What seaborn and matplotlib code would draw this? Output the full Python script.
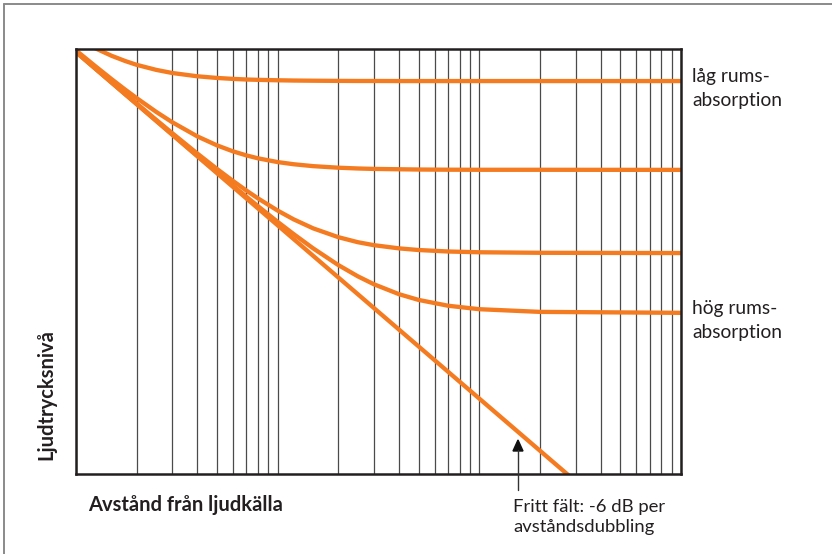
import matplotlib
matplotlib.use("Agg")
import matplotlib.pyplot as plt
from matplotlib.lines import Line2D
from matplotlib.ticker import LogLocator, NullFormatter
import pandas as pd
import seaborn as sns

# Distance from source (relative units, log axis)
distance = [1, 1.25, 1.5, 1.75, 2, 2.5, 3, 4, 5, 6, 7, 8, 10, 12, 15, 20,
            25, 30, 40, 50, 70, 100, 200, 1000]

# Sound pressure level (dB, relative) for four room absorptions
level_low = [1.65, 0.42, -0.43, -1.03, -1.48, -2.06, -2.42, -2.80, -2.99, -3.10,
             -3.17, -3.21, -3.26, -3.29, -3.31, -3.33, -3.34, -3.34, -3.35, -3.35,
             -3.35, -3.35, -3.35, -3.35]
level_mid1 = [0.19, -1.65, -3.12, -4.32, -5.32, -6.91, -8.10, -9.74, -10.77, -11.46,
              -11.93, -12.27, -12.70, -12.95, -13.17, -13.35, -13.44, -13.49, -13.53,
              -13.56, -13.58, -13.59, -13.59, -13.60]
level_mid2 = [0.02, -1.91, -3.48, -4.80, -5.94, -7.83, -9.36, -11.72, -13.49, -14.87,
              -15.99, -16.90, -18.30, -19.31, -20.35, -21.37, -21.95, -22.29, -22.66,
              -22.85, -23.02, -23.11, -23.17, -23.20]
level_high = [0.00, -1.93, -3.51, -4.85, -6.00, -7.93, -9.50, -11.97, -13.87, -15.41,
              -16.70, -17.80, -19.60, -21.01, -22.66, -24.59, -25.89, -26.80, -27.95,
              -28.61, -29.28, -29.68, -29.99, -30.10]

# Free field: -6 dB per doubling of distance
free_distance = [1, 10, 100, 1000]
free_level = [0, -20, -40, -60]

ylabel = "Ljudtrycksnivå"
xlabel = "Avstånd från ljudkälla"
label_low = "låg rums-\nabsorption"
label_high = "hög rums-\nabsorption"
free_label = "Fritt fält: -6 dB per\navståndsdubbling"

ORANGE = "#F47B20"
TEXT = "#231f20"
W, H = 832, 554

sns.set_theme(style="white")
plt.rcParams["font.family"] = ["Lato", "DejaVu Sans"]

fig = plt.figure(figsize=(W / 100, H / 100), dpi=100)
fig.patch.set_facecolor("white")

ax_l, ax_r, ax_t, ax_b = 76, 681, 49, 474
ax = fig.add_axes([ax_l / W, 1 - ax_b / H, (ax_r - ax_l) / W, (ax_b - ax_t) / H])

ax.set_xscale("log")
ax.set_xlim(1, 1000)
ax.set_ylim(-48.7, 0.35)

# grid
ax.xaxis.set_major_locator(LogLocator(base=10))
ax.xaxis.set_minor_locator(LogLocator(base=10, subs=range(2, 10)))
ax.xaxis.set_major_formatter(NullFormatter())
ax.xaxis.set_minor_formatter(NullFormatter())
ax.set_yticks([])
ax.tick_params(which="both", length=0)
ax.grid(True, which="both", axis="x", color="#4a4a4a", lw=0.9)
ax.grid(False, axis="y")

curves = [level_low, level_mid1, level_mid2, level_high]
for lev in curves:
    df = pd.DataFrame({"distance": distance, "level": lev})
    sns.lineplot(data=df, x="distance", y="level", ax=ax, color=ORANGE, lw=3.1,
                 sort=False, estimator=None, solid_capstyle="butt")
df_free = pd.DataFrame({"distance": free_distance, "level": free_level})
sns.lineplot(data=df_free, x="distance", y="level", ax=ax, color=ORANGE, lw=3.1,
             sort=False, estimator=None, solid_capstyle="butt")

ax.set_xlabel("")
ax.set_ylabel("")
for s in ax.spines.values():
    s.set_visible(True)
    s.set_color(TEXT)
    s.set_linewidth(1.8)
    s.set_zorder(5)

# labels
fig.text(88 / W, 1 - 505 / H, xlabel, fontsize=14.5, fontweight="bold",
         color=TEXT, ha="left", va="center")
fig.text(46.5 / W, 1 - 460 / H, ylabel, fontsize=14.5, fontweight="bold",
         color=TEXT, ha="center", va="bottom", rotation=90)

fig.text(692 / W, 1 - 88.5 / H, label_low, fontsize=13.8, color=TEXT,
         ha="left", va="center", linespacing=1.45)
fig.text(692 / W, 1 - 320.5 / H, label_high, fontsize=13.8, color=TEXT,
         ha="left", va="center", linespacing=1.45)
fig.text(513 / W, 1 - 517 / H, free_label, fontsize=13.3, color=TEXT,
         ha="left", va="center", linespacing=1.35)

# arrow
fig.add_artist(Line2D([518 / W, 518 / W], [1 - 490 / H, 1 - 450 / H],
                      color="#333333", lw=1.0))
fig.patches.append(plt.Polygon([[513 / W, 1 - 451 / H], [523 / W, 1 - 451 / H],
                                [518 / W, 1 - 440 / H]], closed=True,
                               transform=fig.transFigure, color="#111111"))

# outer frame (top and left)
fig.add_artist(Line2D([4 / W, 4 / W], [0, 1 - 4 / H], color="#8a8a8a", lw=1.4))
fig.add_artist(Line2D([4 / W, 1], [1 - 4 / H, 1 - 4 / H], color="#8a8a8a", lw=1.4))

fig.savefig("out.png", dpi=100, facecolor="white")
